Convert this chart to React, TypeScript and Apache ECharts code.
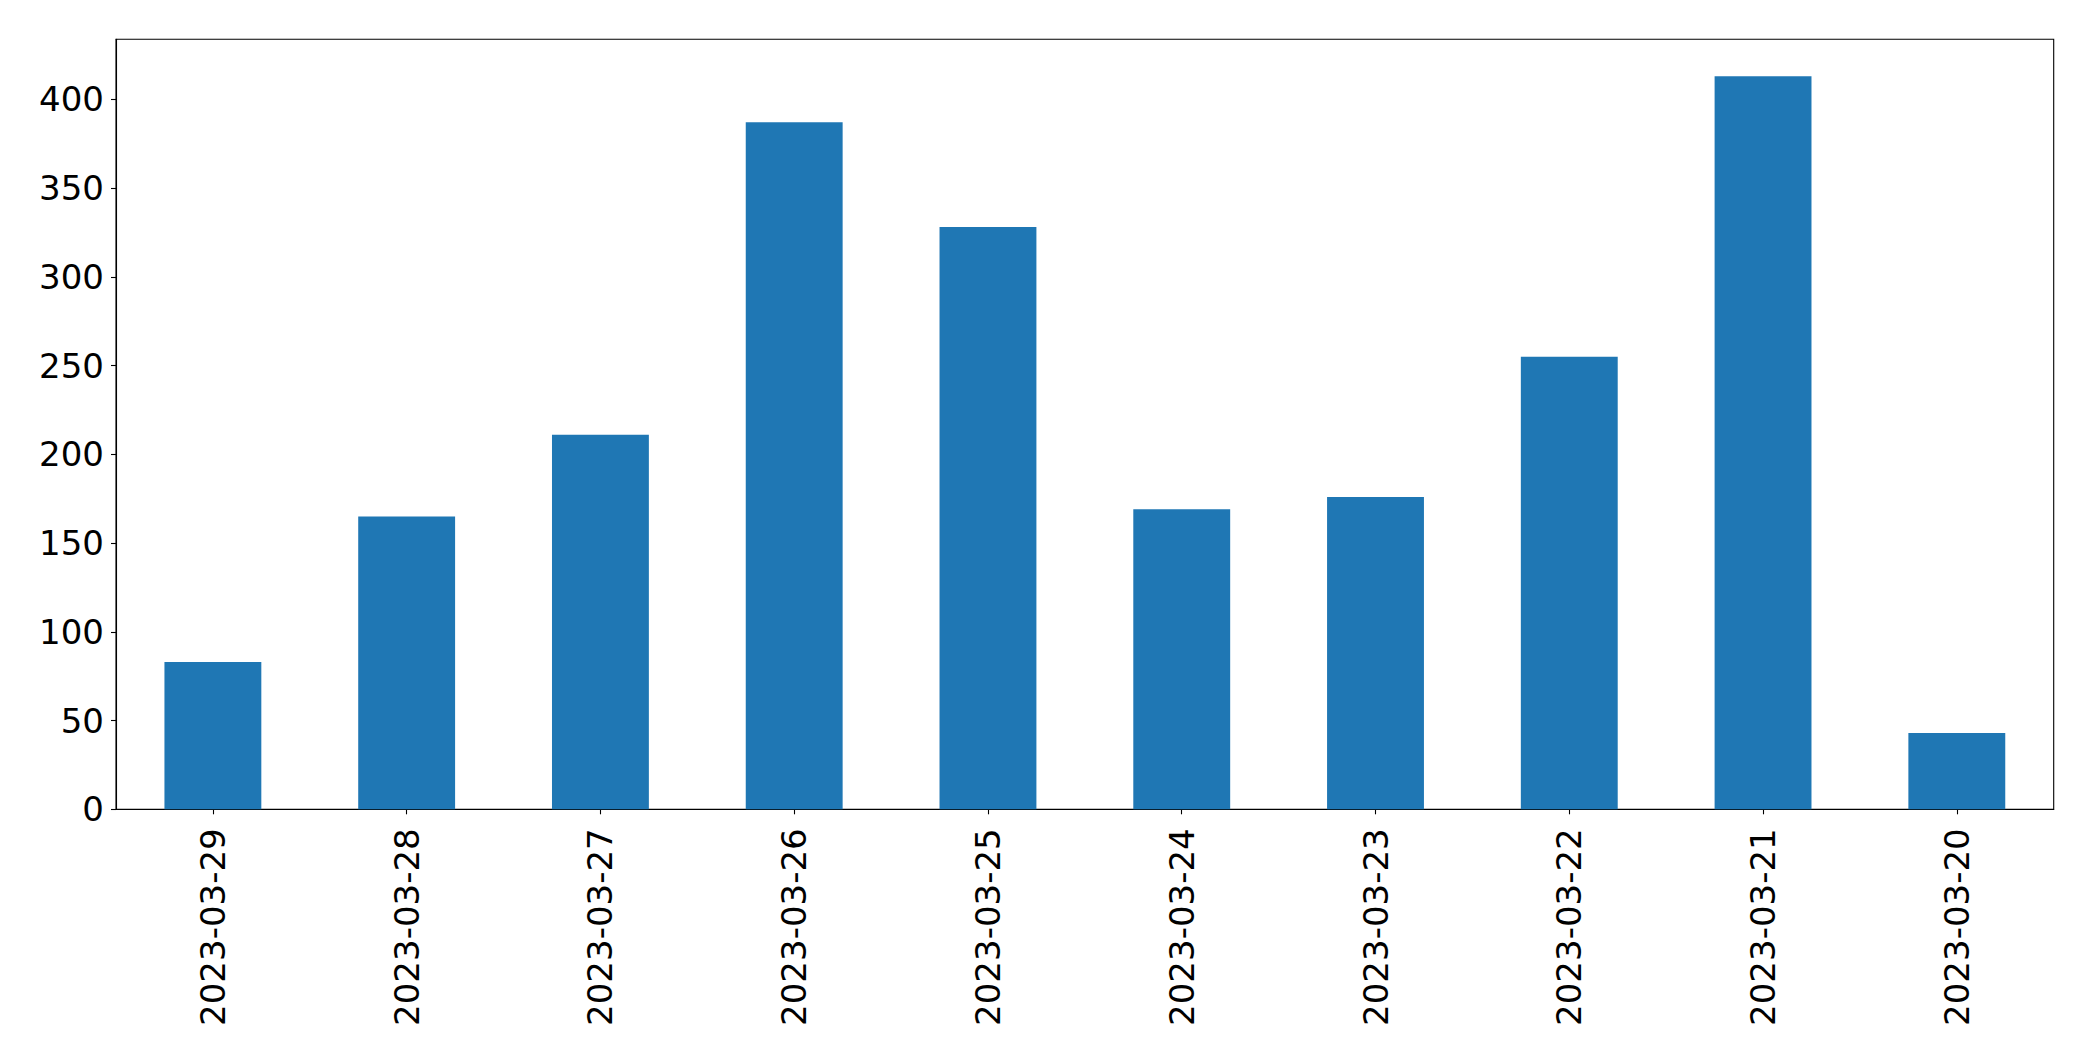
import React, { useEffect, useRef } from "react";
import * as echarts from "echarts";

const categories = [
  "2023-03-29",
  "2023-03-28",
  "2023-03-27",
  "2023-03-26",
  "2023-03-25",
  "2023-03-24",
  "2023-03-23",
  "2023-03-22",
  "2023-03-21",
  "2023-03-20",
];
const values = [83, 165, 211, 387, 328, 169, 176, 255, 413, 43];
const yMax = 433.8;
const yInterval = 50;

export default function App() {
  const ref = useRef<HTMLDivElement>(null);
  useEffect(() => {
    if (!ref.current) return;
    const chart = echarts.init(ref.current, null, { renderer: "svg" });
    const font = "DejaVu Sans";
    chart.setOption({
      animation: false,
      backgroundColor: "#ffffff",
      grid: {
        left: 116,
        top: 39.3,
        right: 39.3,
        bottom: 251.7,
        show: true,
        borderColor: "#000000",
        borderWidth: 1.1,
        backgroundColor: "transparent",
      },
      xAxis: {
        type: "category",
        data: categories,
        boundaryGap: true,
        axisLine: { show: true, lineStyle: { color: "#000", width: 1.1 } },
        axisTick: { show: true, alignWithLabel: true, length: 5, lineStyle: { color: "#000", width: 1.1 } },
        axisLabel: {
          rotate: 90,
          interval: 0,
          margin: 19,
          color: "#000",
          fontFamily: font,
          fontSize: 34,
        },
        splitLine: { show: false },
      },
      yAxis: {
        type: "value",
        min: 0,
        max: yMax,
        interval: yInterval,
        axisLine: { show: true, lineStyle: { color: "#000", width: 1.1 } },
        axisTick: { show: true, length: 5, lineStyle: { color: "#000", width: 1.1 } },
        axisLabel: {
          margin: 12,
          color: "#000",
          fontFamily: font,
          fontSize: 34,
          showMaxLabel: false,
        },
        splitLine: { show: false },
      },
      series: [
        {
          type: "bar",
          data: values,
          barWidth: "50%",
          itemStyle: { color: "#1f77b4" },
        },
      ],
    });
    return () => chart.dispose();
  }, []);
  return (
    <div
      ref={ref}
      style={{ position: "fixed", left: 0, top: 0, width: 2093, height: 1061, background: "#fff" }}
    />
  );
}
